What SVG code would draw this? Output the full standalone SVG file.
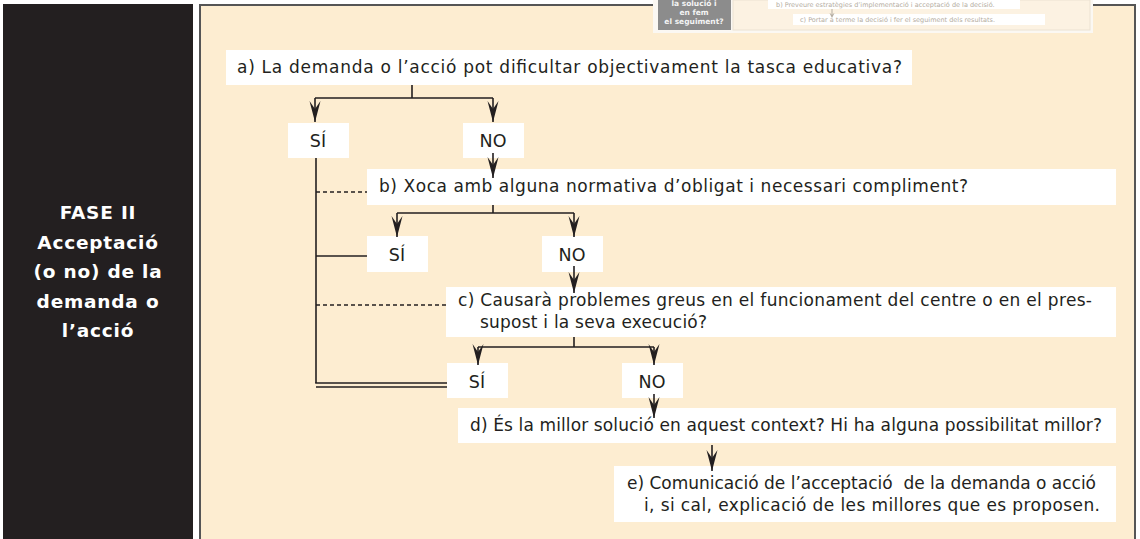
<svg xmlns="http://www.w3.org/2000/svg" width="1140" height="539" viewBox="0 0 1140 539">
<defs>
<style>
.box{fill:#ffffff;stroke:none}
.t{font-family:"DejaVu Sans",Verdana,sans-serif;font-size:17px;fill:#231f20}
.tc{font-family:"DejaVu Sans",Verdana,sans-serif;font-size:17.5px;fill:#231f20;text-anchor:middle}
.side{font-family:"DejaVu Sans",Verdana,sans-serif;font-size:18.5px;font-weight:bold;fill:#ffffff;text-anchor:middle;letter-spacing:0.8px}
.ln{fill:none;stroke:#231f20;stroke-width:1.6}
.arr{fill:none;stroke:#231f20;stroke-width:1.6;marker-end:url(#ah)}
.dash{fill:none;stroke:#231f20;stroke-width:1.3;stroke-dasharray:4 3}
.mini{font-family:"DejaVu Sans",sans-serif;font-size:6.5px;fill:#b4aca0}
.minib{font-family:"DejaVu Sans",sans-serif;font-size:7.5px;font-weight:bold;fill:#f4f4f4;text-anchor:middle}
</style>
<marker id="ah" viewBox="-21 -6 22 12" refX="0" refY="0" markerWidth="22" markerHeight="12" markerUnits="userSpaceOnUse" orient="auto">
<path d="M0,0 L-21,-5.5 L-13,0 L-21,5.5 Z" fill="#231f20"/>
</marker>
</defs>

<rect x="0" y="0" width="1140" height="539" fill="#ffffff"/>

<g id="side-panel">
<rect x="3" y="4" width="190" height="535" fill="#231f20"/>
<text class="side" x="98" y="219">FASE II</text>
<text class="side" x="98" y="249">Acceptació</text>
<text class="side" x="98" y="278">(o no) de la</text>
<text class="side" x="98" y="308">demanda o</text>
<text class="side" x="98" y="337">l’acció</text>
</g>

<g id="main-panel">
<rect x="200" y="5" width="935" height="536" fill="#fdedd1" stroke="#555555" stroke-width="2"/>
</g>

<g id="top-excerpt">
<rect x="653" y="0" width="440" height="33" fill="#fbf8f3"/>
<rect x="658" y="0" width="73" height="30" fill="#8c8c8c"/>
<text class="minib" x="694" y="6">la solució i</text>
<text class="minib" x="694" y="15">en fem</text>
<text class="minib" x="694" y="24">el seguiment?</text>
<rect x="733" y="0" width="357" height="30" fill="#fcf2e2" stroke="#ece2d2" stroke-width="1"/>
<rect x="768" y="0" width="252" height="9" fill="#ffffff"/>
<rect x="793" y="14" width="252" height="11" fill="#ffffff"/>
<text class="mini" x="776" y="7">b) Preveure estratègies d’implementació i acceptació de la decisió.</text>
<path d="M832,9 V14" stroke="#b4aca0" stroke-width="1"/>
<path d="M829.5,13 L832,18 L834.5,13 L832,14.5 Z" fill="#b4aca0"/>
<text class="mini" x="800" y="22">c) Portar a terme la decisió i fer el seguiment dels resultats.</text>
</g>

<g id="node-a">
<rect class="box" x="226" y="50" width="686" height="35"/>
<text class="t" x="237" y="73" textLength="665">a) La demanda o l’acció pot dificultar objectivament la tasca educativa?</text>
</g>
<g id="node-a-si">
<rect class="box" x="288" y="123" width="61" height="35"/>
<text class="tc" x="318" y="147">SÍ</text>
</g>
<g id="node-a-no">
<rect class="box" x="463" y="123" width="61" height="35"/>
<text class="tc" x="493" y="147">NO</text>
</g>

<g id="node-b">
<rect class="box" x="367" y="169" width="749" height="36"/>
<text class="t" x="379" y="192" textLength="589">b) Xoca amb alguna normativa d’obligat i necessari compliment?</text>
</g>
<g id="node-b-si">
<rect class="box" x="367" y="236" width="61" height="36"/>
<text class="tc" x="397" y="261">SÍ</text>
</g>
<g id="node-b-no">
<rect class="box" x="542" y="236" width="61" height="36"/>
<text class="tc" x="572" y="261">NO</text>
</g>

<g id="node-c">
<rect class="box" x="446" y="287" width="670" height="50"/>
<text class="t" x="458" y="306" textLength="634">c) Causarà problemes greus en el funcionament del centre o en el pres-</text>
<text class="t" x="480" y="328" textLength="227">supost i la seva execució?</text>
</g>
<g id="node-c-si">
<rect class="box" x="447" y="363" width="61" height="35"/>
<text class="tc" x="477" y="388">SÍ</text>
</g>
<g id="node-c-no">
<rect class="box" x="622" y="363" width="61" height="35"/>
<text class="tc" x="652" y="388">NO</text>
</g>

<g id="node-d">
<rect class="box" x="458" y="408" width="658" height="35"/>
<text class="t" x="470" y="431" textLength="632">d) És la millor solució en aquest context? Hi ha alguna possibilitat millor?</text>
</g>

<g id="node-e">
<rect class="box" x="614" y="466" width="502" height="56"/>
<text class="t" x="627" y="489" textLength="469" style="white-space:pre">e) Comunicació de l’acceptació  de la demanda o acció</text>
<text class="t" x="644" y="511" textLength="456">i, si cal, explicació de les millores que es proposen.</text>
</g>

<g id="connectors">
<path class="ln" d="M412,85 V98 M315,98 H493"/>
<path class="arr" d="M315,98 V122"/>
<path class="arr" d="M493,98 V122"/>
<path class="arr" d="M493,153 V178"/>
<path class="ln" d="M316,158 V383"/>
<path class="dash" d="M316,192 H367"/>
<path class="ln" d="M493,205 V213 M397,213 H574"/>
<path class="arr" d="M397,213 V237"/>
<path class="arr" d="M574,213 V237"/>
<path class="ln" d="M316,256 H367"/>
<path class="arr" d="M574,266 V293"/>
<path class="dash" d="M316,305 H446"/>
<path class="ln" d="M574,337 V347 M478,347 H654"/>
<path class="arr" d="M478,347 V365"/>
<path class="arr" d="M654,347 V365"/>
<path class="ln" d="M315.2,383 H447 M316,387 H447" stroke-width="1.3"/>
<path class="arr" d="M654,394 V418"/>
<path class="arr" d="M712,445 V471"/>
</g>
</svg>
